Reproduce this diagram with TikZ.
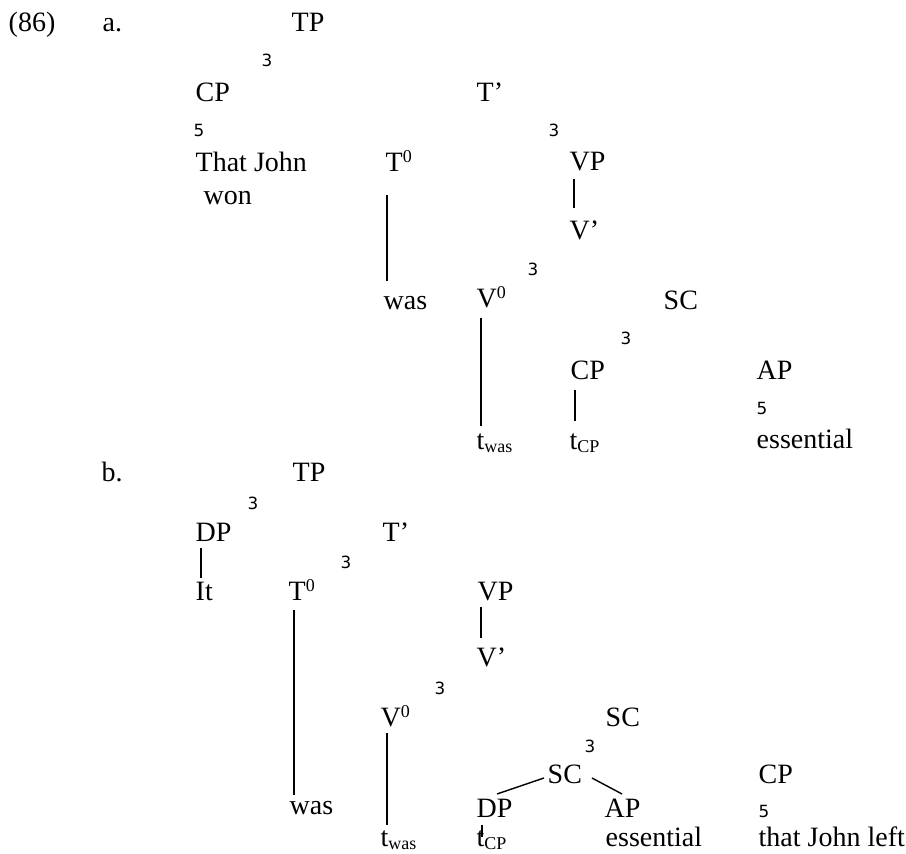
\documentclass[tikz,border=0pt]{standalone}
\usepackage{fontspec}
\setmainfont{Liberation Serif}
\newfontfamily\branchfont{DejaVu Sans}
\usetikzlibrary{calc}
\newcommand{\lowsub}[1]{\raisebox{-1.4pt}{\fontsize{9}{10}\selectfont #1}}
\newcommand{\barzero}{\raisebox{4.6pt}{\fontsize{9}{10}\selectfont 0}}
\tikzset{
cat/.style={anchor=base west, inner sep=0pt, font=\fontsize{14}{16}\selectfont}, % labels and words
br/.style={anchor=base west, inner sep=0pt, font=\branchfont\fontsize{8.4}{10}\selectfont}, % branch marks
}
\begin{document}
\begin{tikzpicture}[x=0.5pt,y=-0.5pt,line width=0.7pt]
    \useasboundingbox (0,0) rectangle (906,854);
    % (a)
    \node[cat] (num)    at (8,32)    {(86)};
    \node[cat] (a)      at (102,32)  {a.};
    \node[cat] (a_TP)   at (291,32)  {TP};
    \node[br]  (a_b1)   at (261,67)  {3};
    \node[cat] (a_CP)   at (195,102) {CP};
    \node[cat] (a_Tb)   at (476,102) {T’};
    \node[br]  (a_b2)   at (193,137) {5};
    \node[br]  (a_b3)   at (548,137) {3};
    \node[cat] (a_that) at (195,172) {That John};
    \node[cat] (a_won)  at (203,205) {won};
    \node[cat] (a_T0)   at (385,172) {T\barzero};
    \node[cat] (a_VP)   at (569,171) {VP};
    \node[cat] (a_Vb)   at (569,240) {V’};
    \node[br]  (a_b4)   at (527,276) {3};
    \node[cat] (a_was)  at (383,310) {was};
    \node[cat] (a_V0)   at (476,308) {V\barzero};
    \node[cat] (a_SC)   at (663,310) {SC};
    \node[br]  (a_b5)   at (620,345) {3};
    \node[cat] (a_CP2)  at (570,380) {CP};
    \node[cat] (a_AP)   at (756,380) {AP};
    \node[br]  (a_b6)   at (756,415) {5};
    \node[cat] (a_tw)   at (476,450) {t\lowsub{was}};
    \node[cat] (a_tc)   at (569,450) {t\lowsub{CP}};
    \node[cat] (a_ess)  at (756,449) {essential};
    \draw ($(a_T0.base west)+(2,23)$) -- ($(a_was.base west)+(4,-29)$);
    \draw ($(a_VP.base west)+(5,8)$) -- ($(a_Vb.base west)+(5,-32)$);
    \draw ($(a_V0.base west)+(5,10)$) -- ($(a_tw.base west)+(5,-24)$);
    \draw ($(a_CP2.base west)+(5,10)$) -- ($(a_tc.base west)+(6,-29)$);
    % (b)
    \node[cat] (b)      at (101,482) {b.};
    \node[cat] (b_TP)   at (292,482) {TP};
    \node[br]  (b_b1)   at (247,510) {3};
    \node[cat] (b_DP)   at (195,542) {DP};
    \node[cat] (b_Tb)   at (382,542) {T’};
    \node[br]  (b_b2)   at (340,569) {3};
    \node[cat] (b_it)   at (195,601) {It};
    \node[cat] (b_T0)   at (288,601) {T\barzero};
    \node[cat] (b_VP)   at (477,601) {VP};
    \node[cat] (b_Vb)   at (476,667) {V’};
    \node[br]  (b_b3)   at (434,695) {3};
    \node[cat] (b_V0)   at (380,727) {V\barzero};
    \node[cat] (b_SC)   at (605,727) {SC};
    \node[br]  (b_b4)   at (584,753) {3};
    \node[cat] (b_SC2)  at (547,784) {SC};
    \node[cat] (b_CP)   at (758,784) {CP};
    \node[cat] (b_was)  at (289,815) {was};
    \node[cat] (b_DP2)  at (476,818) {DP};
    \node[cat] (b_AP)   at (604,818) {AP};
    \node[br]  (b_b5)   at (758,818) {5};
    \node[cat] (b_tw)   at (380,847) {t\lowsub{was}};
    \node[cat] (b_tc)   at (476,847) {t\lowsub{CP}};
    \node[cat] (b_ess)  at (605,847) {essential};
    \node[cat] (b_left) at (758,847) {that John left};
    \draw ($(b_DP.base west)+(6,6)$) -- ($(b_it.base west)+(6,-23)$);
    \draw ($(b_T0.base west)+(6,9)$) -- ($(b_was.base west)+(5,-20)$);
    \draw ($(b_VP.base west)+(4,6)$) -- ($(b_Vb.base west)+(5,-29)$);
    \draw ($(b_V0.base west)+(7,6)$) -- ($(b_tw.base west)+(7,-22)$);
    \draw ($(b_DP2.base west)+(21,-24)$) -- ($(b_SC2.base west)+(-3,-6)$);
    \draw ($(b_SC2.base west)+(45,-6)$) -- ($(b_AP.base west)+(18,-24)$);
    \draw ($(b_DP2.base west)+(6,7)$) -- ($(b_tc.base west)+(6,-10)$);
\end{tikzpicture}
\end{document}
